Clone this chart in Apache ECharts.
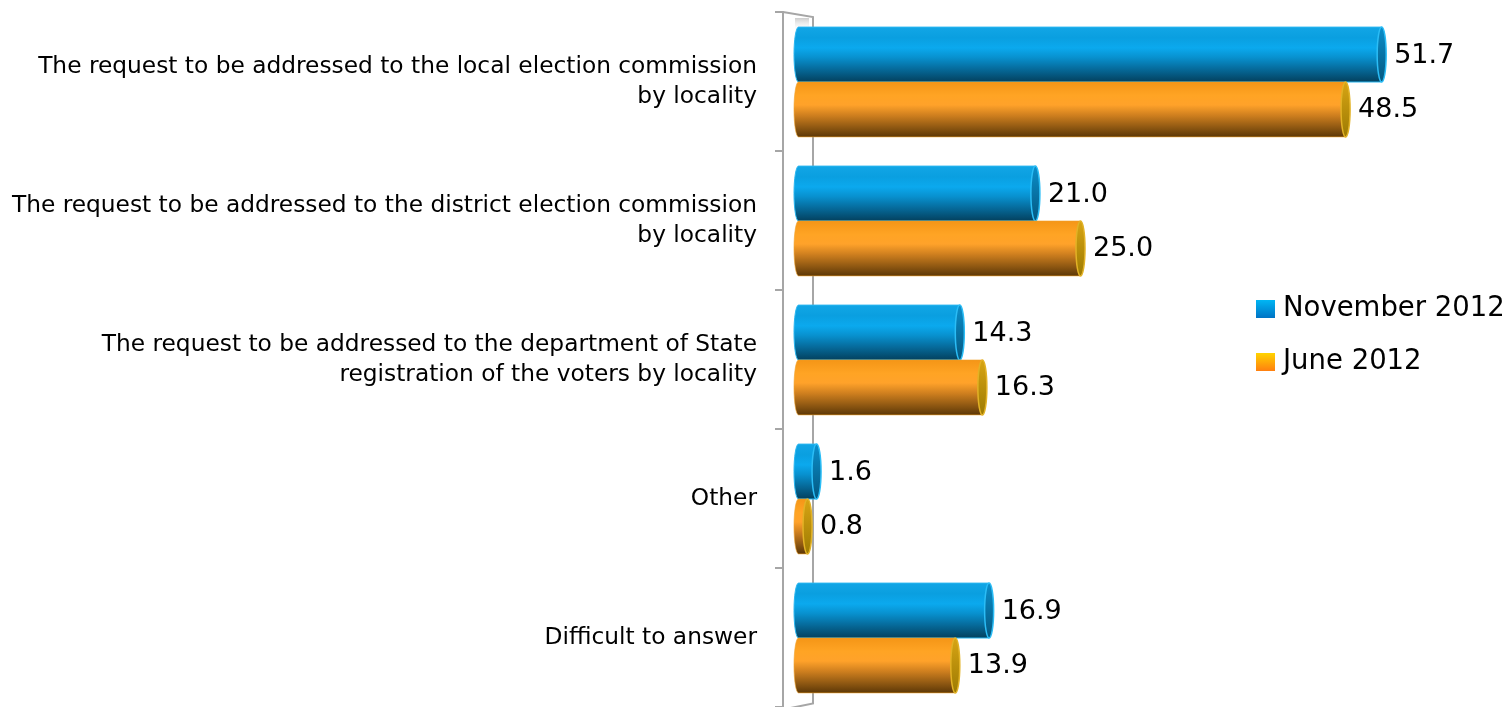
<!DOCTYPE html>
<html>
<head>
<meta charset="utf-8">
<script src="https://cdn.jsdelivr.net/npm/echarts@6/dist/echarts.min.js"></script>
<style>
  html, body { margin: 0; padding: 0; background: #ffffff; }
  #chart { width: 1509px; height: 707px; }
</style>
</head>
<body>
<div id="chart"></div>
<script>
// Answer options (top to bottom)
const categories = [
  'The request to be addressed to the local election commission\nby locality',
  'The request to be addressed to the district election commission\nby locality',
  'The request to be addressed to the department of State\nregistration of the voters by locality',
  'Other',
  'Difficult to answer'
];
const seriesNames = ['November 2012', 'June 2012'];
const november2012 = [51.7, 21.0, 14.3, 1.6, 16.9];
const june2012 = [48.5, 25.0, 16.3, 0.8, 13.9];

const FONT = '"DejaVu Sans", Verdana, sans-serif';
const GRID_LEFT = 798.5;
const GRID_TOP = 12;
const GRID_HEIGHT = 697.5;
const X_MAX = 60;
const PX_PER_UNIT = 11.28;

function grad(stops) {
  return new echarts.graphic.LinearGradient(0, 0, 0, 1,
    stops.map(s => ({ offset: s[0], color: s[1] })));
}

// Cylinder palettes: body shading top->bottom, end cap, outline
const palettes = [
  {
    body: [
      [0, '#12a6e6'], [0.2, '#0a9fe0'], [0.38, '#0ba9ee'], [0.55, '#0891cf'],
      [0.75, '#066c9d'], [1, '#033f5c']
    ],
    cap: [[0, '#0b8fcc'], [1, '#04577f']],
    capStroke: '#2bbdf6',
    stroke: '#29b6f0'
  },
  {
    body: [
      [0, '#f49516'], [0.25, '#ffa424'], [0.42, '#ffa22a'], [0.6, '#d0801f'],
      [0.82, '#8f5812'], [1, '#5a3606']
    ],
    cap: [[0, '#d8a514'], [1, '#9c7a02']],
    capStroke: '#e2b226',
    stroke: 'rgba(240,160,40,0.6)'
  }
];

function cylinderRenderer(seriesIndex) {
  const pal = palettes[seriesIndex];
  return function (params, api) {
    const v = api.value(0);
    const ci = api.value(1);
    const p0 = api.coord([0, ci]);
    const p1 = api.coord([v, ci]);
    const band = api.size([0, 1])[1];
    const h = band * 0.395;
    const cy = p0[1] + (seriesIndex === 0 ? -h / 2 : h / 2) + 0.5;
    const yt = cy - h / 2;
    const yb = cy + h / 2;
    const ry = h / 2;
    const rx = 4.5;
    const x0 = p0[0];
    const x1 = Math.max(p1[0], x0 + 0.5);

    const bodyPath =
      'M' + x1 + ',' + yt + ' L' + x0 + ',' + yt +
      ' A' + rx + ',' + ry + ' 0 0 0 ' + x0 + ',' + yb +
      ' L' + x1 + ',' + yb + ' Z';
    const capPath =
      'M' + x1 + ',' + yt +
      ' A' + rx + ',' + ry + ' 0 1 1 ' + x1 + ',' + yb +
      ' A' + rx + ',' + ry + ' 0 1 1 ' + x1 + ',' + yt + ' Z';

    return {
      type: 'group',
      children: [
        {
          type: 'path',
          shape: { pathData: bodyPath, x: x0 - rx, y: yt, width: x1 - x0 + rx, height: h, layout: 'cover' },
          style: { fill: grad(pal.body), stroke: pal.stroke, lineWidth: 1 }
        },
        {
          type: 'path',
          shape: { pathData: capPath, x: x1 - rx, y: yt, width: rx * 2, height: h, layout: 'cover' },
          style: { fill: grad(pal.cap), stroke: pal.capStroke, lineWidth: 1.5 }
        },
        {
          type: 'text',
          style: {
            text: v.toFixed(1),
            x: x1 + rx + 8,
            y: cy + 1,
            verticalAlign: 'middle',
            align: 'left',
            fill: '#000000',
            font: '27px ' + FONT
          }
        }
      ]
    };
  };
}

const chart = echarts.init(document.getElementById('chart'), null, { renderer: 'canvas' });

const frontX = GRID_LEFT - 15.5;
const backX = GRID_LEFT + 14.5;
const bottomY = GRID_TOP + GRID_HEIGHT;

const option = {
  backgroundColor: '#ffffff',
  animation: false,
  grid: {
    left: GRID_LEFT,
    top: GRID_TOP,
    width: X_MAX * PX_PER_UNIT,
    height: GRID_HEIGHT,
    containLabel: false
  },
  legend: {
    orient: 'vertical',
    left: 1256,
    top: 295,
    padding: 0,
    itemWidth: 19,
    itemHeight: 18,
    itemGap: 25,
    textStyle: { fontFamily: FONT, fontSize: 27.5, color: '#000000', lineHeight: 28, padding: [0, 0, 0, 3] },
    data: [
      { name: seriesNames[0], icon: 'rect', itemStyle: { color: grad([[0, '#00b6f4'], [1, '#0073c4']]) } },
      { name: seriesNames[1], icon: 'rect', itemStyle: { color: grad([[0, '#ffd400'], [1, '#ff7f10']]) } }
    ]
  },
  xAxis: {
    type: 'value',
    min: 0,
    max: X_MAX,
    show: false
  },
  yAxis: {
    type: 'category',
    inverse: true,
    data: categories,
    position: 'left',
    offset: 15.5,
    axisLine: { show: true, onZero: false, lineStyle: { color: '#a6a6a6', width: 2 } },
    axisTick: { show: true, length: 8, alignWithLabel: false, lineStyle: { color: '#a6a6a6', width: 2 } },
    axisLabel: {
      margin: 26,
      fontFamily: FONT,
      fontSize: 23.3,
      lineHeight: 30,
      padding: [6, 0, 0, 0],
      color: '#000000',
      align: 'right'
    },
    splitLine: { show: false }
  },
  graphic: [
    {
      // back wall edge of the 3D frame, joined to the front axis line
      type: 'polyline',
      z: 1,
      shape: { points: [[frontX, GRID_TOP], [backX, GRID_TOP + 5], [backX, bottomY - 6], [frontX, bottomY]] },
      style: { stroke: '#a6a6a6', lineWidth: 2, fill: null }
    },
    {
      type: 'rect',
      z: 0,
      shape: { x: frontX + 12, y: GRID_TOP + 6, width: 14, height: 14 },
      style: { fill: grad([[0, 'rgba(200,200,200,0.9)'], [1, 'rgba(255,255,255,0)']]) }
    }
  ],
  series: [
    {
      name: seriesNames[0],
      type: 'custom',
      renderItem: cylinderRenderer(0),
      itemStyle: { color: '#0a9fe0' },
      encode: { x: 0, y: 1 },
      data: november2012.map((v, i) => [v, i]),
      z: 3
    },
    {
      name: seriesNames[1],
      type: 'custom',
      renderItem: cylinderRenderer(1),
      itemStyle: { color: '#ffa424' },
      encode: { x: 0, y: 1 },
      data: june2012.map((v, i) => [v, i]),
      z: 4
    }
  ]
};

chart.setOption(option);
</script>
</body>
</html>
